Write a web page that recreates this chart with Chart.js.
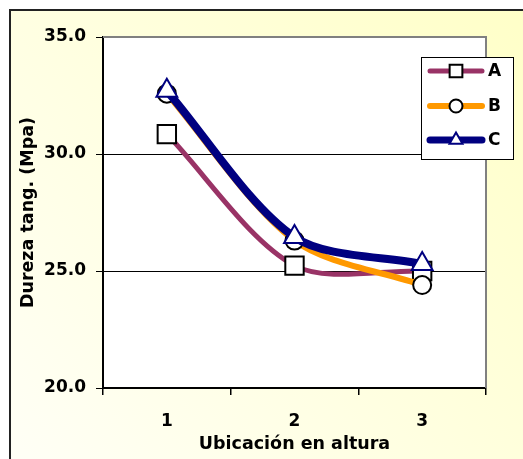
<!DOCTYPE html>
<html>
<head>
<meta charset="utf-8">
<script src="https://cdn.jsdelivr.net/npm/chart.js@4/dist/chart.umd.min.js"></script>
<style>
  html, body { margin: 0; padding: 0; background: #ffffff; }
  #wrap { width: 523px; height: 459px; position: relative; }
  canvas { display: block; }
</style>
</head>
<body>
<div id="wrap"><canvas id="chart" width="523" height="459"></canvas></div>
<script>
// Hardness (tangential) by height position, three series
const categories = ['1', '2', '3'];
const seriesNames = ['A', 'B', 'C'];
const valuesA = [30.85, 25.23, 25.0];
const valuesB = [32.58, 26.3, 24.40];
const valuesC = [32.7, 26.45, 25.3];
const yTickValues = [20, 25, 30, 35];
const xTitle = 'Ubicación en altura';
const yTitle = 'Dureza tang. (Mpa)';

const FONT = 'DejaVu Sans';

// Background, outer frame and plot-area frame
const framePlugin = {
  id: 'frame',
  beforeDraw(chart) {
    const { ctx, chartArea: a, width, height } = chart;
    ctx.save();
    ctx.fillStyle = '#ffffff';
    ctx.fillRect(0, 0, width, height);
    const g = ctx.createLinearGradient(10, height, width, 10);
    g.addColorStop(0, '#fffff6');
    g.addColorStop(1, '#ffffc8');
    ctx.fillStyle = g;
    ctx.fillRect(10, 10, width - 10, height - 10);
    ctx.strokeStyle = '#222222';
    ctx.lineWidth = 2;
    ctx.beginPath();
    ctx.moveTo(10, height + 2);
    ctx.lineTo(10, 10);
    ctx.lineTo(width + 2, 10);
    ctx.stroke();
    ctx.fillStyle = '#ffffff';
    ctx.fillRect(a.left, a.top, a.right - a.left, a.bottom - a.top);
    ctx.restore();
  },
  beforeDatasetsDraw(chart) {
    const { ctx, chartArea: a } = chart;
    ctx.save();
    ctx.strokeStyle = '#808080';
    ctx.lineWidth = 2;
    ctx.beginPath();
    ctx.moveTo(a.left, a.top);
    ctx.lineTo(a.right, a.top);
    ctx.lineTo(a.right, a.bottom);
    ctx.stroke();
    ctx.restore();
  }
};

// Boxed legend inside the upper-right corner
const boxLegendPlugin = {
  id: 'boxLegend',
  afterDraw(chart) {
    const { ctx } = chart;
    const box = { x: 421, y: 57, w: 92, h: 102 };
    const rows = [71, 106, 140];
    const markerRadius = { rect: 9, circle: 6.5, triangle: 7.5 };
    ctx.save();
    ctx.fillStyle = '#ffffff';
    ctx.fillRect(box.x, box.y, box.w, box.h);
    ctx.strokeStyle = '#000000';
    ctx.lineWidth = 1;
    ctx.strokeRect(box.x + 0.5, box.y + 0.5, box.w, box.h);
    chart.data.datasets.forEach((ds, i) => {
      const y = rows[i];
      ctx.strokeStyle = ds.borderColor;
      ctx.lineWidth = Math.min(ds.borderWidth, 7);
      ctx.lineCap = 'round';
      ctx.beginPath();
      ctx.moveTo(430, y);
      ctx.lineTo(482, y);
      ctx.stroke();
      ctx.fillStyle = ds.pointBackgroundColor;
      ctx.strokeStyle = ds.pointBorderColor;
      ctx.lineWidth = ds.pointBorderWidth;
      Chart.helpers.drawPoint(ctx, {
        pointStyle: ds.pointStyle,
        radius: markerRadius[ds.pointStyle],
        borderWidth: ds.pointBorderWidth,
        rotation: 0
      }, 456, y);
      ctx.fillStyle = '#000000';
      ctx.font = 'bold 17px "' + FONT + '"';
      ctx.textAlign = 'left';
      ctx.textBaseline = 'middle';
      ctx.fillText(ds.label, 488, y + 1);
    });
    ctx.restore();
  }
};

// order: higher values are drawn first, so A sits at the bottom and C on top
const makeSeries = (label, data, color, width, style, radius, markerBorder, order) => ({
  label,
  data,
  order,
  borderColor: color,
  borderWidth: width,
  borderCapStyle: 'round',
  tension: 0.3,
  fill: false,
  pointStyle: style,
  pointRadius: radius,
  pointBackgroundColor: '#ffffff',
  pointBorderColor: markerBorder,
  pointBorderWidth: 2
});

new Chart(document.getElementById('chart'), {
  type: 'line',
  data: {
    labels: categories,
    datasets: [
      makeSeries(seriesNames[0], valuesA, '#993366', 5, 'rect', 13, '#000000', 3),
      makeSeries(seriesNames[1], valuesB, '#ff9900', 6, 'circle', 9, '#000000', 2),
      makeSeries(seriesNames[2], valuesC, '#000080', 8, 'triangle', 12, '#000080', 1)
    ]
  },
  options: {
    responsive: false,
    animation: false,
    devicePixelRatio: 1,
    layout: { padding: { top: 37, right: 37, left: 0, bottom: 0 } },
    plugins: {
      legend: { display: false },
      tooltip: { enabled: false }
    },
    scales: {
      x: {
        type: 'category',
        offset: true,
        grid: {
          display: true,
          offset: true,
          drawOnChartArea: false,
          drawTicks: true,
          tickLength: 7,
          color: '#000000',
          tickColor: '#000000',
          lineWidth: 1.5
        },
        border: { display: true, color: '#000000', width: 2 },
        ticks: {
          color: '#000000',
          padding: 16,
          font: { family: FONT, weight: 'bold', size: 17 }
        },
        title: {
          display: true,
          text: xTitle,
          color: '#000000',
          padding: { top: 0, bottom: 4 },
          font: { family: FONT, weight: 'bold', size: 17.5 }
        },
        afterFit(scale) { scale.height = 71; }
      },
      y: {
        min: 20,
        max: 35,
        afterBuildTicks(scale) {
          scale.ticks = yTickValues.map(v => ({ value: v }));
        },
        grid: {
          color: ctx => (ctx.tick && ctx.tick.value === 35 ? '#808080' : '#000000'),
          tickColor: '#000000',
          lineWidth: 1,
          tickLength: 7
        },
        border: { display: true, color: '#000000', width: 2 },
        ticks: {
          color: '#000000',
          padding: 10,
          callback: v => Number(v).toFixed(1),
          font: { family: FONT, weight: 'bold', size: 17 }
        },
        title: {
          display: true,
          text: yTitle,
          color: '#000000',
          padding: { top: 18, bottom: 0 },
          font: { family: FONT, weight: 'bold', size: 17.5 }
        },
        afterFit(scale) { scale.width = 103; }
      }
    }
  },
  plugins: [framePlugin, boxLegendPlugin]
});
</script>
</body>
</html>
